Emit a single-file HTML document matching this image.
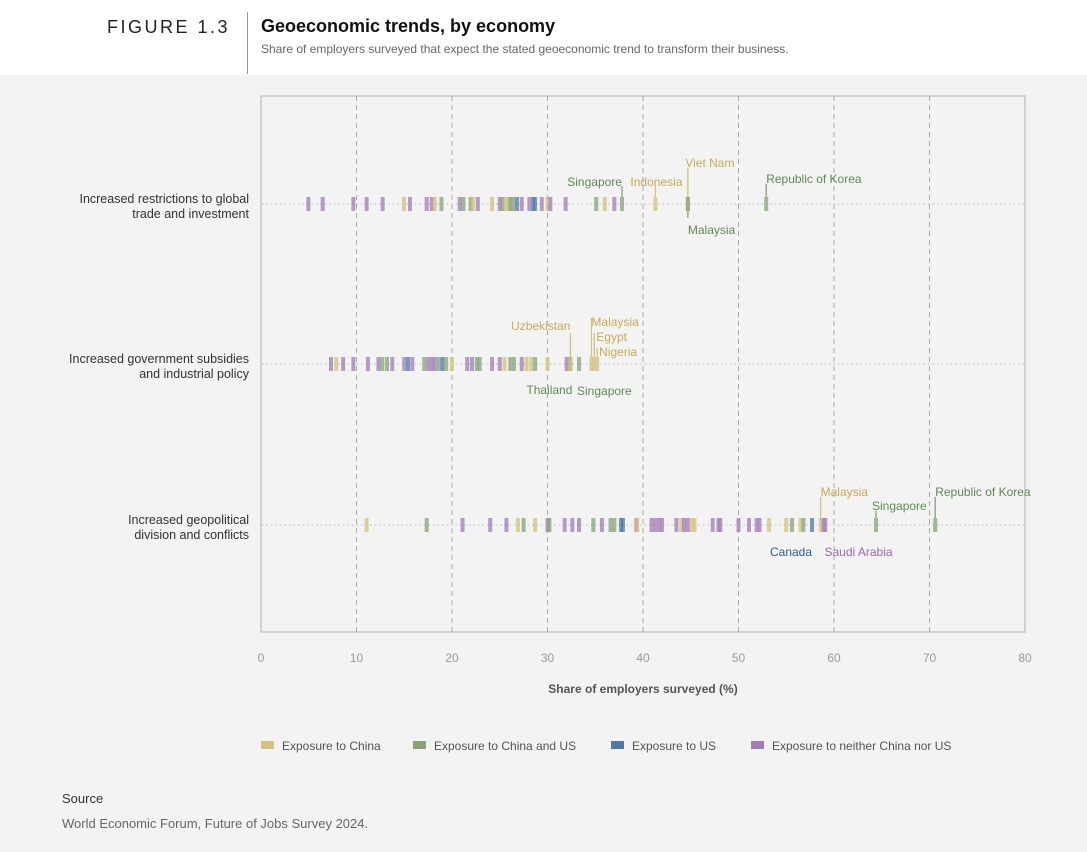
<!DOCTYPE html>
<html><head><meta charset="utf-8">
<style>
html,body{margin:0;padding:0;width:1087px;height:852px;overflow:hidden;background:#f3f3f3;font-family:"Liberation Sans",sans-serif;}
#hdr{position:absolute;left:0;top:0;width:1087px;height:75px;background:#fff;}
#fig{position:absolute;left:107px;top:17px;font-size:18px;letter-spacing:2.5px;color:#222;}
#vline{position:absolute;left:247px;top:12px;width:1px;height:62px;background:#999;}
#title{position:absolute;left:261px;top:16px;font-size:18px;font-weight:bold;color:#111;}
#sub{position:absolute;left:261px;top:42px;font-size:12px;color:#666;}
#src1{position:absolute;left:62px;top:791px;font-size:13px;color:#333;}
#src2{position:absolute;left:62px;top:816px;font-size:13px;color:#666;}
svg{position:absolute;left:0;top:0;}
</style></head><body>
<div id="hdr"></div>
<div id="fig">FIGURE 1.3</div>
<div id="vline"></div>
<div id="title">Geoeconomic trends, by economy</div>
<div id="sub">Share of employers surveyed that expect the stated geoeconomic trend to transform their business.</div>
<svg id="chart" width="1087" height="852"></svg>
<div id="src1">Source</div>
<div id="src2">World Economic Forum, Future of Jobs Survey 2024.</div>
<script>
const categories = ["Increased restrictions to global|trade and investment","Increased government subsidies|and industrial policy","Increased geopolitical|division and conflicts"];
const xTicks = [0,10,20,30,40,50,60,70,80];
const seriesNames = ["Exposure to China","Exposure to China and US","Exposure to US","Exposure to neither China nor US"];
const row1Values = [4.96,6.46,9.67,11.06,12.74,14.97,15.6,17.35,17.87,18.2,18.9,20.8,21.2,21.95,22.2,22.7,24.2,25.0,25.3,25.6,25.9,26.1,26.4,26.8,27.3,28.1,28.5,28.7,29.4,30.0,30.3,31.9,35.1,36.0,37.0,37.8,41.3,44.7,44.7,52.9];
const row1Groups = ["N","N","N","N","N","C","N","N","N","C","B","N","B","B","C","N","C","N","B","C","C","B","B","U","N","N","U","U","N","C","N","N","B","C","N","B","C","C","B","B"];
const row2Values = [7.33,7.9,8.6,9.67,11.2,12.3,12.7,13.2,13.75,15.0,15.4,15.85,17.1,17.5,17.9,18.2,18.6,19.0,19.4,20.0,21.6,22.1,22.6,22.9,24.2,25.0,25.5,26.1,26.5,27.3,27.8,28.3,28.7,30.0,32.0,32.4,32.4,33.3,34.6,34.9,35.2];
const row2Groups = ["N","C","N","N","N","N","B","B","N","N","U","N","B","N","N","N","B","U","B","C","N","N","B","B","N","N","C","B","B","N","C","C","B","C","N","B","C","B","C","C","C"];
const row3Values = [11.06,17.35,21.1,24.0,25.7,26.9,27.5,28.7,30.0,30.2,31.8,32.6,33.3,34.8,35.7,36.6,37.0,37.7,37.9,39.3,39.4,40.9,41.3,41.7,42.0,43.5,44.0,44.3,44.7,45.1,45.4,47.3,47.9,48.1,50.0,51.1,51.9,52.2,53.2,55.0,55.6,56.5,56.8,57.7,58.6,58.9,59.1,64.4,70.6];
const row3Groups = ["C","B","N","N","N","C","B","C","N","B","N","N","N","B","N","B","B","U","U","N","C","N","N","N","N","N","C","N","N","C","C","N","N","N","N","N","N","N","C","C","B","C","B","U","C","N","N","B","B"];
const annotNames = ["Viet Nam","Indonesia","Singapore","Republic of Korea","Malaysia","Uzbekistan","Malaysia","Egypt","Nigeria","Thailand","Singapore","Malaysia","Singapore","Republic of Korea","Canada","Saudi Arabia"];
const annotValues = [44.7,41.3,37.8,52.9,44.7,32.4,34.6,34.9,35.2,32.4,33.3,58.6,64.4,70.6,57.7,58.9];
const annotRows = [0,0,0,0,0,1,1,1,1,1,1,2,2,2,2,2];
const annotGroups = ["C","C","B","B","B","C","C","C","C","B","B","C","B","B","U","N"];
const annotLayout = [[-36,22,-41,"middle"],[-18,1,-22,"middle"],[-18,0,-22,"end"],[-20,0,-25,"start"],[14,0,26,"start"],[-31,0,-38,"end"],[-46,0,-42,"start"],[-31,2,-27,"start"],[-16,2,-12,"start"],[7,2,26,"end"],[7,-2,27,"start"],[-28,0,-33,"start"],[-14,-4,-19,"start"],[-28,0,-33,"start"],[7,0,27,"end"],[7,1,27,"start"]];

const colors = {C:"#d4c080",B:"#86a37a",U:"#4f7aa6",N:"#a07cb3"};
const textColors = {C:"#c8aa55",B:"#5e8a52",U:"#2f5f8f",N:"#9a68b0"};
const X0=261,X1=1025,Y0=96,Y1=632;
const rowY=[204,364,525];
const xs=v=>X0+(v-xTicks[0])/(xTicks[xTicks.length-1]-xTicks[0])*(X1-X0);
const svg=document.getElementById('chart');
const NS="http://www.w3.org/2000/svg";
function mk(tag,attrs,parent){const e=document.createElementNS(NS,tag);for(const k in attrs)e.setAttribute(k,attrs[k]);(parent||svg).appendChild(e);return e;}

const plot=mk('rect',{x:X0,y:Y0,width:X1-X0,height:Y1-Y0,fill:"#f3f3f3",stroke:"#bdbdbd","stroke-width":1.2});


xTicks.forEach((t,i)=>{
  if(i>0&&i<xTicks.length-1){
    const g=mk('line',{x1:xs(t),x2:xs(t),y1:Y0,y2:Y1,stroke:"#aaa","stroke-dasharray":"5,4","stroke-width":1});
    
    
  }
  const tl=mk('text',{x:xs(t),y:662,"text-anchor":"middle","font-size":12,fill:"#999"});
  tl.textContent=t;
  
  
});
const at=mk('text',{x:(X0+X1)/2,y:693,"text-anchor":"middle","font-size":12,"font-weight":"bold",fill:"#555"});
at.textContent="Share of employers surveyed (%)";



categories.forEach((c,i)=>{
  const y=rowY[i];
  const dl=mk('line',{x1:262,x2:X1,y1:y,y2:y,stroke:"#bbb","stroke-dasharray":"1.5,3","stroke-width":1});
  
  
  const parts=c.split('|');
  parts.forEach((p,j)=>{
    const t=mk('text',{x:249,y:y-1+j*15,"text-anchor":"end","font-size":12.5,fill:"#333"});
    t.textContent=p;
    
    
  });
});

const rows=[[row1Values,row1Groups],[row2Values,row2Groups],[row3Values,row3Groups]];
rows.forEach((r,i)=>{
  r[0].forEach((v,j)=>{
    const m=mk('rect',{x:xs(v)-2,y:rowY[i]-7,width:4,height:14,fill:colors[r[1][j]],opacity:0.75});
    
    
  });
});

annotNames.forEach((n,i)=>{
  const L=annotLayout[i],x=xs(annotValues[i]),y=rowY[annotRows[i]];
  const g=annotGroups[i];
  const y2=L[0]<0?y-7:y+7;
  const ln=mk('line',{x1:x,x2:x,y1:y+L[0],y2:y2,stroke:colors[g],"stroke-width":1.3});
  
  
  const t=mk('text',{x:x+L[1],y:y+L[2]+4,"text-anchor":L[3],"font-size":12,fill:textColors[g]});
  t.textContent=n;
  
  
});

const legendX=[261,413,611,751];
seriesNames.forEach((s,i)=>{
  const code=["C","B","U","N"][i];
  const r=mk('rect',{x:legendX[i],y:741,width:13,height:8,fill:colors[code]});
  
  
  const t=mk('text',{x:legendX[i]+21,y:750,"font-size":12,fill:"#555"});
  t.textContent=s;
  
  
});
</script>
</body></html>
